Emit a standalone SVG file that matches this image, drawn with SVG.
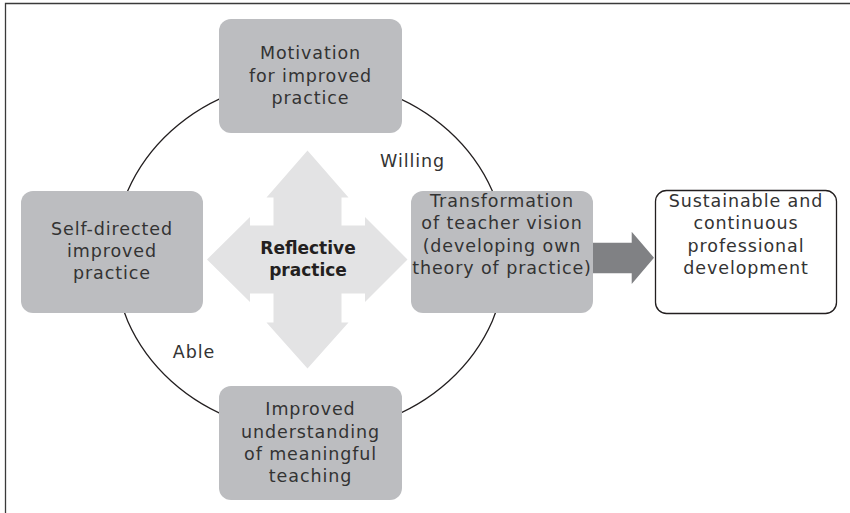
<svg xmlns="http://www.w3.org/2000/svg" width="850" height="513" viewBox="0 0 850 513">
<style>
.box{fill:#bcbdc0;}
.t{font-family:"DejaVu Sans",sans-serif;font-size:17.5px;letter-spacing:0.9px;fill:#333;text-anchor:middle;}
.b{font-family:"DejaVu Sans",sans-serif;font-size:17px;font-weight:bold;fill:#231f20;text-anchor:middle;}
</style>
<rect width="850" height="513" fill="#fff"/>
<path d="M5.5,513 V3.5 H850" fill="none" stroke="#3a3a3a" stroke-width="1.3"/>
<g id="connectors">
<ellipse cx="310" cy="256" rx="196" ry="177" fill="none" stroke="#231f20" stroke-width="1.3"/>
<polygon points="593,242.7 631.7,242.7 631.7,231.7 654,257.7 631.7,284 631.7,273.3 593,273.3" fill="#808184"/>
</g>
<g id="reflective-practice">
<polygon points="307.5,150.5 348.5,197.5 341.5,197.5 341.5,225.5 365,225.5 365,217 407.5,259.5 365,302 365,293.5 341.5,293.5 341.5,322.5 348.5,322.5 307.5,368.5 266.5,322.5 273.5,322.5 273.5,293.5 250,293.5 250,302 207,259.5 250,217 250,225.5 273.5,225.5 273.5,197.5 266.5,197.5" fill="#e3e3e4"/>
<text class="b" x="308" y="254">Reflective</text>
<text class="b" x="308" y="275.7">practice</text>
</g>
<g id="motivation">
<rect class="box" x="219" y="19" width="183" height="114" rx="12"/>
<text class="t" x="310.5" y="59.3">Motivation</text>
<text class="t" x="310.5" y="82">for improved</text>
<text class="t" x="310.5" y="104.3">practice</text>
</g>
<g id="self-directed">
<rect class="box" x="21" y="191" width="182" height="122" rx="12"/>
<text class="t" x="112" y="235">Self-directed</text>
<text class="t" x="112" y="257">improved</text>
<text class="t" x="112" y="279">practice</text>
</g>
<g id="transformation">
<rect class="box" x="411" y="191" width="182" height="122" rx="12"/>
<text class="t" x="502" y="206.7">Transformation</text>
<text class="t" x="502" y="229.3">of teacher vision</text>
<text class="t" x="502" y="252">(developing own</text>
<text class="t" x="502" y="274.3">theory of practice)</text>
</g>
<g id="improved-understanding">
<rect class="box" x="219" y="386" width="183" height="114" rx="12"/>
<text class="t" x="310.5" y="415">Improved</text>
<text class="t" x="310.5" y="437.7">understanding</text>
<text class="t" x="310.5" y="460">of meaningful</text>
<text class="t" x="310.5" y="481.7">teaching</text>
</g>
<g id="sustainable">
<rect x="655.5" y="190.5" width="181" height="123" rx="11" fill="#fff" stroke="#231f20" stroke-width="1.3"/>
<text class="t" x="746" y="206.7">Sustainable and</text>
<text class="t" x="746" y="229.3">continuous</text>
<text class="t" x="746" y="252">professional</text>
<text class="t" x="746" y="274.3">development</text>
</g>
<g id="labels">
<text class="t" x="412.5" y="167">Willing</text>
<text class="t" x="194" y="358">Able</text>
</g>
</svg>
